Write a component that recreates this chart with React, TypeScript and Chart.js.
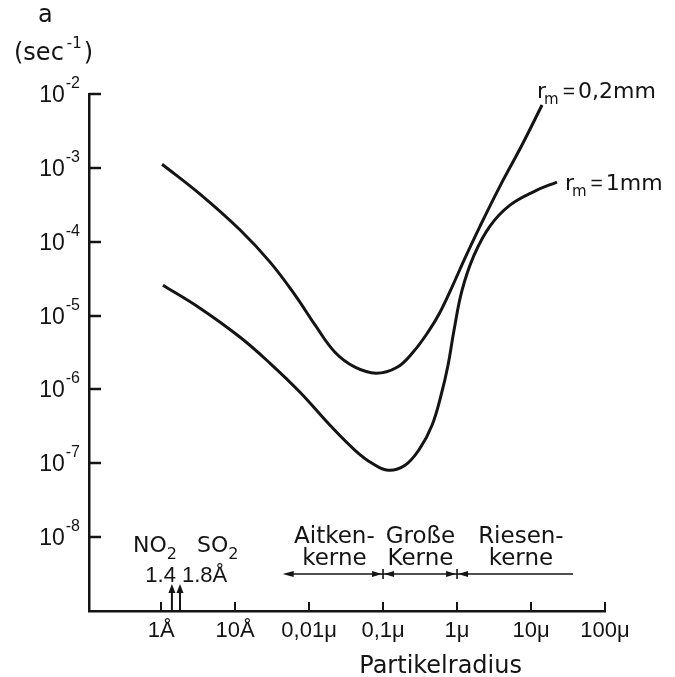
import React, { useEffect, useRef } from "react";
import { Chart, registerables } from "chart.js";

Chart.register(...registerables);

const INK = "#141414";
const TICK_FONT = "'Liberation Sans', 'DejaVu Sans', sans-serif";
const TEXT_FONT = "'DejaVu Sans', sans-serif";

// axis ranges
const radiusMin = 1.06e-11;
const radiusMax = 1e-4;
const rateMin = 1e-9;
const rateMax = 1e-2;

// tick values & labels
const xTickValues = [1e-10, 1e-9, 1e-8, 1e-7, 1e-6, 1e-5, 1e-4];
const xTickLabels = ["1Å", "10Å", "0,01μ", "0,1μ", "1μ", "10μ", "100μ"];
const yTickValues = [1e-8, 1e-7, 1e-6, 1e-5, 1e-4, 1e-3, 1e-2];
const yTickBase = "10";
const yTickExponents = ["-8", "-7", "-6", "-5", "-4", "-3", "-2"];

// curve r_m = 0,2 mm  (particle radius in m, rate in 1/s)
const radius02mm = [1.03e-10, 3.36e-10, 1.17e-9, 2.97e-9, 6.47e-9, 1.21e-8, 2.24e-8, 4.18e-8, 8.04e-8, 1.55e-7, 2.54e-7, 4.05e-7, 5.89e-7, 8.55e-7, 1.28e-6, 2.05e-6, 3.81e-6, 7.55e-6, 1.41e-5];
const rate02mm = [1.12e-3, 4.41e-4, 1.44e-4, 5.29e-5, 1.89e-5, 7.41e-6, 3.19e-6, 2.0e-6, 1.66e-6, 2.0e-6, 3.19e-6, 5.96e-6, 1.11e-5, 2.43e-5, 6.0e-5, 1.63e-4, 5.66e-4, 2.04e-3, 7.1e-3];

// curve r_m = 1 mm
const radius1mm = [1.06e-10, 3.36e-10, 1.17e-9, 2.97e-9, 7.55e-9, 1.92e-8, 4.18e-8, 7.1e-8, 1.17e-7, 1.98e-7, 3.16e-7, 4.59e-7, 6.08e-7, 7.55e-7, 9.1e-7, 1.17e-6, 1.7e-6, 2.79e-6, 5.2e-6, 1.13e-5, 2.24e-5];
const rate1mm = [2.58e-5, 1.26e-5, 5.09e-6, 2.26e-6, 9.16e-7, 3.27e-7, 1.5e-7, 1.0e-7, 8.04e-8, 9.39e-8, 1.6e-7, 3.27e-7, 8.34e-7, 2.13e-6, 6.34e-6, 2.21e-5, 6.58e-5, 1.63e-4, 3.13e-4, 4.85e-4, 6.43e-4];

// gas molecule radii (NO2 1.4 Å, SO2 1.8 Å)
const gasRadii = [1.4e-10, 1.8e-10];

// particle class boundaries and label anchors
const regionBounds = [4.4e-9, 1e-7, 1e-6, 3.7e-5];
const regionLabelCenters = [2.2e-8, 3.2e-7, 7.3e-6];
const regionLabelLines = [
  ["Aitken-", "kerne"],
  ["Große", "Kerne"],
  ["Riesen-", "kerne"],
];
const xTitleCenter = 6e-7;

type Part = { t: string; size: number; dy?: number; dx?: number; family?: string };

function rich(ctx: CanvasRenderingContext2D, parts: Part[], x: number, y: number) {
  let cx = x;
  for (const p of parts) {
    ctx.font = `${p.size}px ${p.family || TEXT_FONT}`;
    cx += p.dx || 0;
    ctx.fillText(p.t, cx, y + (p.dy || 0));
    cx += ctx.measureText(p.t).width;
  }
  return cx;
}
function richWidth(ctx: CanvasRenderingContext2D, parts: Part[]) {
  let w = 0;
  for (const p of parts) {
    ctx.font = `${p.size}px ${p.family || TEXT_FONT}`;
    w += (p.dx || 0) + ctx.measureText(p.t).width;
  }
  return w;
}

function arrowHead(ctx: CanvasRenderingContext2D, tx: number, ty: number, dirX: number, dirY: number, len: number, half: number) {
  const bx = tx - dirX * len;
  const by = ty - dirY * len;
  ctx.beginPath();
  ctx.moveTo(tx, ty);
  ctx.lineTo(bx - dirY * half, by + dirX * half);
  ctx.lineTo(bx + dirY * half, by - dirX * half);
  ctx.closePath();
  ctx.fill();
}

const annotate = {
  id: "annotate",
  afterDraw(chart: any) {
    const ctx: CanvasRenderingContext2D = chart.ctx;
    const xs = chart.scales.x;
    const ys = chart.scales.y;
    const area = chart.chartArea;
    ctx.save();
    ctx.strokeStyle = INK;
    ctx.fillStyle = INK;
    ctx.textBaseline = "alphabetic";
    ctx.textAlign = "left";

    // inward tick marks
    ctx.lineWidth = 2.5;
    for (const v of yTickValues) {
      const y = Math.round(ys.getPixelForValue(v));
      ctx.beginPath();
      ctx.moveTo(area.left, y);
      ctx.lineTo(area.left + 12, y);
      ctx.stroke();
    }
    ctx.lineWidth = 2;
    for (const v of xTickValues) {
      const x = Math.round(xs.getPixelForValue(v));
      ctx.beginPath();
      ctx.moveTo(x, area.bottom);
      ctx.lineTo(x, area.bottom - 9);
      ctx.stroke();
    }

    // y tick labels 10^n (right-aligned before the axis)
    yTickValues.forEach((v, i) => {
      const y = ys.getPixelForValue(v);
      const parts: Part[] = [
        { t: yTickBase, size: 23, family: TICK_FONT },
        { t: yTickExponents[i], size: 16, dy: -14, dx: 1, family: TICK_FONT },
      ];
      rich(ctx, parts, area.left - 9 - richWidth(ctx, parts), y + 8);
    });

    // y-axis heading
    rich(ctx, [{ t: "a", size: 24 }], 38, 22);
    rich(ctx, [{ t: "(sec", size: 24 }, { t: "-1", size: 15, dy: -12, dx: 3 }, { t: ")", size: 24, dx: 2 }], 14, 60);

    // gas arrows
    ctx.lineWidth = 2;
    const gx = gasRadii.map((r) => xs.getPixelForValue(r));
    for (const x of gx) {
      ctx.beginPath();
      ctx.moveTo(x, area.bottom);
      ctx.lineTo(x, area.bottom - 20);
      ctx.stroke();
      arrowHead(ctx, x, area.bottom - 27, 0, -1, 9, 3.5);
    }
    const no2: Part[] = [{ t: "NO", size: 22 }, { t: "2", size: 16, dy: 7 }];
    rich(ctx, no2, gx[0] + 5 - richWidth(ctx, no2), area.bottom - 59);
    rich(ctx, [{ t: "SO", size: 22 }, { t: "2", size: 16, dy: 7 }], gx[1] + 17, area.bottom - 59);
    const n14: Part[] = [{ t: "1.4", size: 22, family: TICK_FONT }];
    rich(ctx, n14, gx[0] + 4 - richWidth(ctx, n14), area.bottom - 29);
    rich(ctx, [{ t: "1.8Å", size: 22, family: TICK_FONT }], gx[1] + 2, area.bottom - 29);

    // particle class arrows
    const bx = regionBounds.map((r) => xs.getPixelForValue(r));
    const ly = area.bottom - 37;
    ctx.lineWidth = 1.6;
    ctx.beginPath();
    ctx.moveTo(bx[0] + 4, ly);
    ctx.lineTo(bx[3], ly);
    ctx.stroke();
    arrowHead(ctx, bx[0], ly, -1, 0, 11, 3);
    for (const x of [bx[1], bx[2]]) {
      arrowHead(ctx, x - 1, ly, 1, 0, 10, 3);
      arrowHead(ctx, x + 1, ly, -1, 0, 10, 3);
      ctx.beginPath();
      ctx.moveTo(x, ly - 5);
      ctx.lineTo(x, ly + 5);
      ctx.stroke();
    }
    ctx.textAlign = "center";
    regionLabelLines.forEach((lines, i) => {
      const cx = xs.getPixelForValue(regionLabelCenters[i]);
      ctx.font = `23px ${TEXT_FONT}`;
      ctx.fillText(lines[0], cx, area.bottom - 68);
      ctx.fillText(lines[1], cx, area.bottom - 46);
    });

    // x axis title
    ctx.font = `24px ${TEXT_FONT}`;
    ctx.fillText("Partikelradius", xs.getPixelForValue(xTitleCenter), area.bottom + 62);
    ctx.textAlign = "left";

    // curve labels
    const m0 = chart.getDatasetMeta(0).data;
    const m1 = chart.getDatasetMeta(1).data;
    const e0 = m0[m0.length - 1];
    const e1 = m1[m1.length - 1];
    rich(
      ctx,
      [
        { t: "r", size: 22 },
        { t: "m", size: 15, dy: 6, dx: -2 },
        { t: "=", size: 21, dx: 4, family: TICK_FONT },
        { t: "0,2mm", size: 22, dx: 3 },
      ],
      e0.x - 5,
      e0.y - 7
    );
    rich(
      ctx,
      [
        { t: "r", size: 22 },
        { t: "m", size: 15, dy: 6, dx: -2 },
        { t: "=", size: 21, dx: 4, family: TICK_FONT },
        { t: "1mm", size: 22, dx: 3 },
      ],
      e1.x + 8,
      e1.y + 8
    );

    ctx.restore();
  },
};

export default function App() {
  const ref = useRef<HTMLCanvasElement>(null);
  useEffect(() => {
    const canvas = ref.current!;
    const chart = new Chart(canvas, {
      type: "line",
      data: {
        datasets: [
          {
            label: "r_m = 0,2mm",
            data: radius02mm.map((x, i) => ({ x, y: rate02mm[i] })),
            borderColor: INK,
            borderWidth: 3,
            pointRadius: 0,
            fill: false,
            tension: 0.4,
          },
          {
            label: "r_m = 1mm",
            data: radius1mm.map((x, i) => ({ x, y: rate1mm[i] })),
            borderColor: INK,
            borderWidth: 3,
            pointRadius: 0,
            fill: false,
            tension: 0.4,
          },
        ],
      },
      options: {
        animation: false,
        responsive: false,
        devicePixelRatio: 1,
        layout: { padding: { top: 94, right: 70, left: 0, bottom: 0 } },
        plugins: { legend: { display: false }, tooltip: { enabled: false } },
        scales: {
          x: {
            type: "logarithmic",
            min: radiusMin,
            max: radiusMax,
            position: "bottom",
            afterBuildTicks: (s: any) => {
              s.ticks = xTickValues.map((v) => ({ value: v }));
            },
            afterFit: (s: any) => {
              s.height = 66;
            },
            grid: { display: true, drawOnChartArea: false, drawTicks: false },
            border: { display: true, color: INK, width: 2.5 },
            ticks: {
              autoSkip: false,
              maxRotation: 0,
              padding: 7,
              color: INK,
              font: { family: TICK_FONT, size: 22 },
              callback: (_v: any, i: number) => xTickLabels[i],
            },
          },
          y: {
            type: "logarithmic",
            min: rateMin,
            max: rateMax,
            position: "left",
            afterBuildTicks: (s: any) => {
              s.ticks = yTickValues.map((v) => ({ value: v }));
            },
            afterFit: (s: any) => {
              s.width = 89;
            },
            grid: { display: true, drawOnChartArea: false, drawTicks: false },
            border: { display: true, color: INK, width: 2.5 },
            ticks: { display: false },
          },
        },
      },
      plugins: [annotate],
    } as any);
    return () => chart.destroy();
  }, []);
  return (
    <div style={{ position: "absolute", left: 0, top: 0, width: 675, height: 677, background: "#fff" }}>
      <canvas ref={ref} width={675} height={677} style={{ display: "block", width: 675, height: 677 }} />
    </div>
  );
}
